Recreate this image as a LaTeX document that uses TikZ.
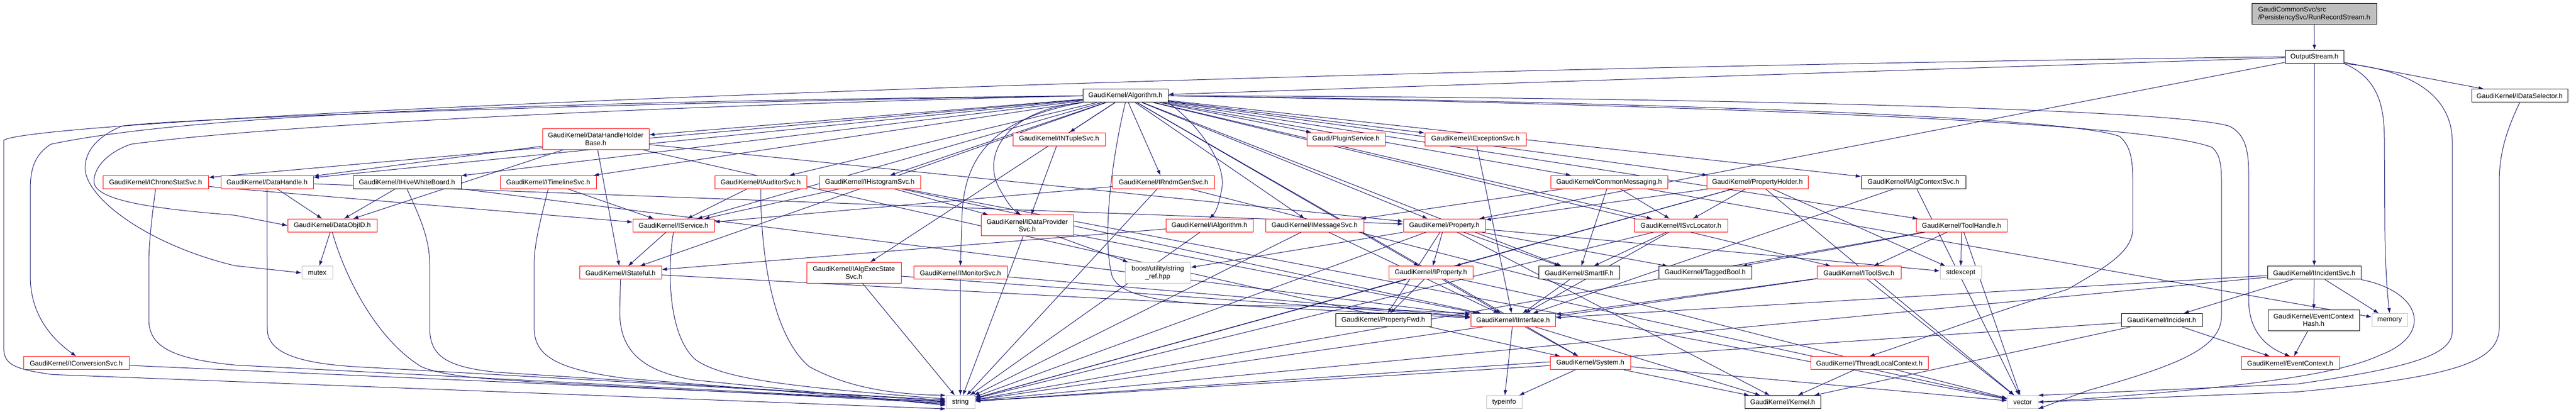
\documentclass[tikz,border=0pt]{standalone}
\usepackage{fontspec}
\setmainfont{Liberation Sans}
\usetikzlibrary{arrows.meta,backgrounds}
\definecolor{edgeblue}{HTML}{191970}
\definecolor{sysgray}{HTML}{BFBFBF}
\begin{document}
\begin{tikzpicture}[x=1pt, y=-1.51pt,
  hdr/.style={draw=black, fill=white, line width=1pt, inner sep=0pt,
    minimum height=25pt, align=center, font=\fontsize{13}{14.5}\selectfont},
  twoline/.style={minimum height=40pt},
  trunc/.style={hdr, draw=red},
  syshdr/.style={hdr, draw=sysgray},
  rootbox/.style={hdr, fill=sysgray, twoline, align=left},
  dep/.style={draw=edgeblue, line width=1pt, -{Latex[length=10pt,width=7pt]}},
]
  \useasboundingbox (0,0) rectangle (4934,522.5);

  % top
  \node[rootbox, minimum width=239pt] (root) at (4432.5,17.5) {GaudiCommonSvc/src\\/PersistencySvc/RunRecordStream.h};
  \node[hdr, minimum width=112pt] (outstr) at (4433,72) {OutputStream.h};
  \node[hdr, minimum width=163pt] (algo) at (2155.5,121.5) {GaudiKernel/Algorithm.h};
  \node[hdr, minimum width=184pt] (idatasel) at (4826,121.5) {GaudiKernel/IDataSelector.h};

  \node[trunc, twoline, minimum width=204pt] (dhhb) at (1141,176.5) {GaudiKernel/DataHandleHolder\\Base.h};
  \node[trunc, minimum width=177pt] (intuple) at (2028.5,176.5) {GaudiKernel/INTupleSvc.h};
  \node[trunc, minimum width=150pt] (plugin) at (2578,176.5) {Gaudi/PluginService.h};
  \node[trunc, minimum width=194pt] (iexcept) at (2826,176.5) {GaudiKernel/IExceptionSvc.h};

  \node[trunc, minimum width=202pt] (ichrono) at (298,231) {GaudiKernel/IChronoStatSvc.h};
  \node[trunc, minimum width=177pt] (dhandle) at (511.5,231) {GaudiKernel/DataHandle.h};
  \node[hdr, minimum width=207pt] (ihive) at (779.5,231) {GaudiKernel/IHiveWhiteBoard.h};
  \node[trunc, minimum width=184pt] (itimeline) at (1050,231) {GaudiKernel/ITimelineSvc.h};
  \node[trunc, minimum width=176pt] (iauditor) at (1457,231) {GaudiKernel/IAuditorSvc.h};
  \node[trunc, minimum width=194pt] (ihisto) at (1666,231) {GaudiKernel/IHistogramSvc.h};
  \node[trunc, minimum width=195pt] (irndm) at (2228.5,231) {GaudiKernel/IRndmGenSvc.h};
  \node[trunc, minimum width=224pt] (commsg) at (3082,231) {GaudiKernel/CommonMessaging.h};
  \node[trunc, minimum width=194pt] (propholder) at (3366,231) {GaudiKernel/PropertyHolder.h};
  \node[hdr, minimum width=200pt] (ialgctx) at (3665,231) {GaudiKernel/IAlgContextSvc.h};

  \node[trunc, minimum width=171pt] (dataobjid) at (636.5,286) {GaudiKernel/DataObjID.h};
  \node[trunc, minimum width=156pt] (iservice) at (1290,286) {GaudiKernel/IService.h};
  \node[trunc, twoline, minimum width=177pt] (idataprov) at (1967.5,286) {GaudiKernel/IDataProvider\\Svc.h};
  \node[trunc, minimum width=167pt] (ialgorithm) at (2316.5,286) {GaudiKernel/IAlgorithm.h};
  \node[trunc, minimum width=188pt] (imsgsvc) at (2518,286) {GaudiKernel/IMessageSvc.h};
  \node[trunc, minimum width=157pt] (property) at (2766.5,286) {GaudiKernel/Property.h};
  \node[trunc, minimum width=179pt] (isvcloc) at (3219.5,286) {GaudiKernel/ISvcLocator.h};
  \node[trunc, minimum width=174pt] (toolhandle) at (3757,286) {GaudiKernel/ToolHandle.h};

  \node[syshdr, minimum width=59pt] (mutex) at (607.5,346) {mutex};
  \node[trunc, minimum width=157pt] (istateful) at (1188.5,346) {GaudiKernel/IStateful.h};
  \node[trunc, twoline, minimum width=181pt] (ialgexec) at (1635.5,346) {GaudiKernel/IAlgExecState\\Svc.h};
  \node[trunc, minimum width=179pt] (imonitor) at (1839.5,346) {GaudiKernel/IMonitorSvc.h};
  \node[syshdr, twoline, minimum width=125pt] (boostref) at (2217.5,346) {boost/utility/string\\\_ref.hpp};
  \node[trunc, minimum width=161pt] (iproperty) at (2740.5,346) {GaudiKernel/IProperty.h};
  \node[hdr, minimum width=155pt] (smartif) at (3024.5,346) {GaudiKernel/SmartIF.h};
  \node[hdr, minimum width=178pt] (taggedbool) at (3266,346) {GaudiKernel/TaggedBool.h};
  \node[trunc, minimum width=161pt] (itoolsvc) at (3560.5,346) {GaudiKernel/IToolSvc.h};
  \node[syshdr, minimum width=79pt] (stdexcept) at (3755.5,346) {stdexcept};
  \node[hdr, minimum width=179pt] (iincident) at (4432.5,346) {GaudiKernel/IIncidentSvc.h};

  \node[hdr, minimum width=183pt] (propfwd) at (2649.5,406) {GaudiKernel/PropertyFwd.h};
  \node[trunc, minimum width=162pt] (iinterface) at (2898,406) {GaudiKernel/IInterface.h};
  \node[hdr, minimum width=155pt] (incident) at (4140.5,406) {GaudiKernel/Incident.h};
  \node[hdr, twoline, minimum width=175pt] (evctxhash) at (4431.5,406) {GaudiKernel/EventContext\\Hash.h};
  \node[syshdr, minimum width=68pt] (memory) at (4577,406) {memory};

  \node[trunc, minimum width=202pt] (iconv) at (146,460.5) {GaudiKernel/IConversionSvc.h};
  \node[trunc, minimum width=154pt] (system) at (3046,460.5) {GaudiKernel/System.h};
  \node[trunc, minimum width=225pt] (threadlocal) at (3580.5,460.5) {GaudiKernel/ThreadLocalContext.h};
  \node[trunc, minimum width=187pt] (evctx) at (4386.5,460.5) {GaudiKernel/EventContext.h};

  \node[syshdr, minimum width=55pt] (string) at (1839.5,510) {string};
  \node[syshdr, minimum width=68pt] (typeinfo) at (2881,510) {typeinfo};
  \node[hdr, minimum width=145pt] (kernel) at (3414.5,510) {GaudiKernel/Kernel.h};
  \node[syshdr, minimum width=58pt] (vector) at (3874,510) {vector};

  \begin{scope}[on background layer]
    \draw[dep] (root) -- (outstr);
    \foreach \t in {algo,property,idatasel,iincident}
      \draw[dep] (outstr) -- (\t);
    \draw[dep] (outstr.south east) .. controls (4560,100) and (4567,140) .. (4567,180)
      -- (4568,300) .. controls (4570,360) and (4574,380) .. (memory.north);
    \draw[dep] (outstr.south east) .. controls (4640,90) and (4697,130) .. (4697,180)
      -- (4697,420) .. controls (4697,450) and (4620,466) .. (4400,487) -- (vector.north east);
    \draw[dep] (outstr.west) .. controls (2200,90) and (60,150) .. (7,178)
      -- (7,440) .. controls (7,462) and (25,468) .. (100,475) -- (string.south west);
    \draw[dep] (idatasel.south) .. controls (4805,160) and (4787,190) .. (4787,230)
      -- (4787,415) .. controls (4787,460) and (4700,478) .. (4400,497) -- (vector.east);

    % Algorithm.h
    \foreach \t in {ichrono,dhandle,ihive,itimeline,dhhb,iservice,istateful,iauditor,
        ihisto,ialgexec,intuple,irndm,imsgsvc,plugin,
        iexcept,property,iproperty,commsg,isvcloc,propholder,ialgctx,toolhandle,
        itoolsvc,smartif,system}
      \draw[dep] (algo) -- (\t);
    \draw[dep] (algo.south west) .. controls (1920,140) and (1880,200) .. (1915,240)
      .. controls (1930,258) and (1940,266) .. ([xshift=-12pt]idataprov.north);
    \draw[dep] (algo.south west) .. controls (1900,150) and (1850,200) .. (1843,267)
      -- (imonitor.north);
    \draw[dep] (algo.south east) .. controls (2300,160) and (2350,210) .. (2340,240)
      .. controls (2335,258) and (2330,268) .. (ialgorithm.north);
    \draw[dep] (algo.west) .. controls (1200,128) and (400,140) .. (97,183)
      .. controls (70,195) and (58,210) .. (58,240) -- (58,350)
      .. controls (58,400) and (100,430) .. (iconv.north);
    \draw[dep] (algo.west) .. controls (1200,130) and (330,150) .. (233,160)
      .. controls (180,175) and (163,195) .. (163,213)
      .. controls (163,250) and (280,310) .. (450,337) -- (mutex.west);
    \draw[dep] (algo.west) .. controls (1200,135) and (500,160) .. (250,183)
      .. controls (200,195) and (180,215) .. (180,230)
      .. controls (180,255) and (300,265) .. (450,273) -- (dataobjid.west);
    \draw[dep] (algo.south) .. controls (2130,200) and (2110,300) .. (2130,350)
      .. controls (2150,385) and (2300,388) .. (2500,388) -- (iinterface.north west);
    \draw[dep] (algo.east) .. controls (3000,122) and (4150,135) .. (4270,160)
      .. controls (4300,170) and (4307,190) .. (4307,220) -- (4307,380)
      .. controls (4307,420) and (4340,440) .. (evctx.north);
    \draw[dep] (algo.east) .. controls (3000,130) and (4100,150) .. (4237,187)
      .. controls (4250,195) and (4255,205) .. (4255,230) -- (4255,400)
      .. controls (4255,440) and (4180,462) .. (4000,495) -- (vector.south east);
    \draw[dep] (algo.east) .. controls (3000,128) and (3950,145) .. (4060,173)
      .. controls (4080,185) and (4085,200) .. (4085,230) -- (4085,290)
      .. controls (4085,320) and (4030,340) .. (3960,367)
      .. controls (3800,400) and (3680,430) .. (threadlocal.north);

    % drops into string from the left
    \draw[dep] (ichrono.south) .. controls (290,280) and (285,310) .. (285,335) -- (285,405)
      .. controls (285,440) and (330,455) .. (450,463) -- (string.west);
    \draw[dep] (dhandle.south) -- (512,417) .. controls (512,445) and (560,462) .. (707,466)
      -- ([yshift=4pt]string.west);
    \draw[dep] (ihive.south) .. controls (800,270) and (823,300) .. (823,335) -- (823,415)
      .. controls (823,450) and (850,465) .. (950,472) -- ([yshift=2pt]string.west);
    \draw[dep] (dataobjid.south) .. controls (660,350) and (720,430) .. (807,465)
      .. controls (850,478) and (950,482) .. (1100,487) -- ([yshift=-2pt]string.west);
    \draw[dep] (itimeline.south) .. controls (1035,280) and (1023,310) .. (1023,335) -- (1023,415)
      .. controls (1023,450) and (1060,468) .. (1200,480) -- ([yshift=-4pt]string.west);
    \draw[dep] (iservice.south) .. controls (1280,330) and (1275,420) .. (1330,455)
      .. controls (1380,480) and (1500,490) .. ([yshift=6pt]string.west);
    \draw[dep] (istateful.south) -- (1187,395) .. controls (1187,440) and (1220,470) .. (1330,482)
      -- ([yshift=-6pt]string.west);
    \draw[dep] (iauditor.south) .. controls (1457,300) and (1470,420) .. (1550,465)
      .. controls (1620,490) and (1700,500) .. (string.north west);

    \foreach \t in {dataobjid,dhandle,istateful,property,system}
      \draw[dep] (dhhb) -- (\t);
    \foreach \t in {dataobjid,property}
      \draw[dep] (dhandle) -- (\t);
    \draw[dep] (ichrono) -- (iservice);
    \draw[dep] (iconv) -- (string);
    \foreach \t in {dataobjid,iinterface}
      \draw[dep] (ihive) -- (\t);
    \draw[dep] (dataobjid) -- (mutex);
    \draw[dep] (itimeline) -- (iservice);
    \draw[dep] (iservice) -- (istateful);
    \draw[dep] (istateful) -- (iinterface);
    \draw[dep] (iauditor) -- (iservice);
    \foreach \t in {iservice,idataprov,iinterface,vector}
      \draw[dep] (ihisto) -- (\t);
    \draw[dep] (intuple) -- (idataprov);
    \foreach \t in {string,boostref,iinterface}
      \draw[dep] (idataprov) -- (\t);
    \foreach \t in {string,iinterface}
      \draw[dep] (imonitor) -- (\t);
    \foreach \t in {string,iinterface}
      \draw[dep] (ialgexec) -- (\t);
    \foreach \t in {iservice,string,vector}
      \draw[dep] (irndm) -- (\t);
    \foreach \t in {istateful,string}
      \draw[dep] (ialgorithm) -- (\t);
    \foreach \t in {string,iinterface}
      \draw[dep] (imsgsvc) -- (\t);
    \draw[dep] (iexcept) -- (iinterface);
    \foreach \t in {imsgsvc,isvcloc,smartif,memory}
      \draw[dep] (commsg) -- (\t);
    \foreach \t in {property,iproperty,isvcloc,stdexcept,string,vector}
      \draw[dep] (propholder) -- (\t);
    \foreach \t in {iinterface,vector}
      \draw[dep] (ialgctx) -- (\t);
    \foreach \t in {iinterface,smartif,string}
      \draw[dep] (isvcloc) -- (\t);
    \foreach \t in {itoolsvc,stdexcept,vector,taggedbool,string}
      \draw[dep] (toolhandle) -- (\t);
    \foreach \t in {propfwd,iproperty,smartif,taggedbool,kernel,boostref,string,stdexcept}
      \draw[dep] (property) -- (\t);
    \foreach \t in {propfwd,iinterface,string,vector}
      \draw[dep] (iproperty) -- (\t);
    \draw[dep] (smartif) -- (iinterface);
    \foreach \t in {typeinfo,system,kernel}
      \draw[dep] (iinterface) -- (\t);
    \foreach \t in {kernel,typeinfo,string,vector}
      \draw[dep] (system) -- (\t);
    \draw[dep] (threadlocal) -- (kernel);
    \foreach \t in {evctx,kernel,string}
      \draw[dep] (incident) -- (\t);
    \draw[dep] (evctxhash) -- (evctx);
    \foreach \t in {incident,evctxhash,memory,iinterface,string}
      \draw[dep] (iincident) -- (\t);
    \draw[dep] (iincident.south east) .. controls (4640,370) and (4660,425) .. (4560,450)
      .. controls (4480,475) and (4300,492) .. (vector.east);
    \foreach \t in {iinterface,string,vector}
      \draw[dep] (itoolsvc) -- (\t);
  \end{scope}
\end{tikzpicture}
\end{document}
